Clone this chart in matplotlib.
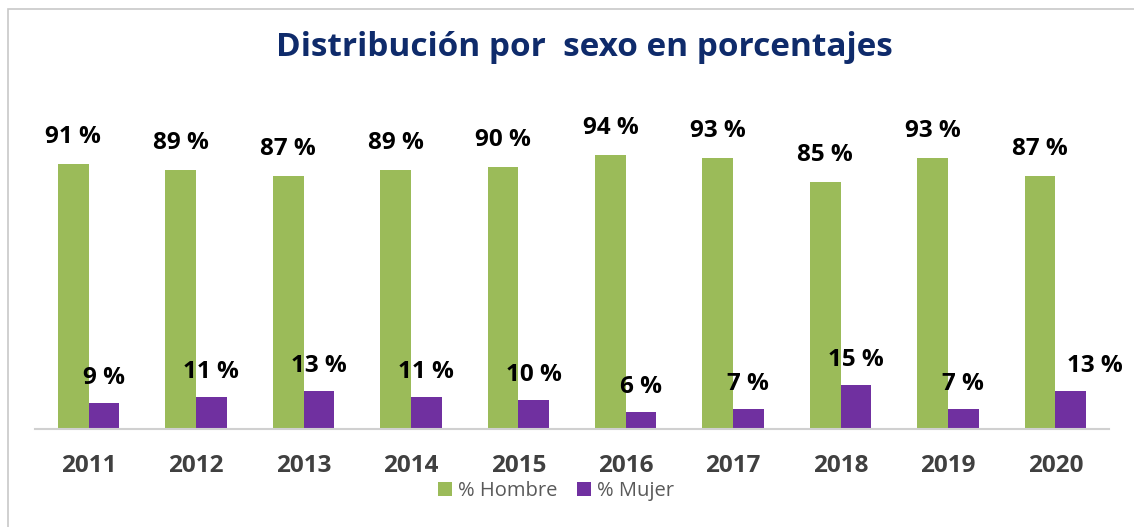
import matplotlib
matplotlib.use('Agg')
import matplotlib.pyplot as plt
import numpy as np
from matplotlib.patches import Rectangle

years = ['2011', '2012', '2013', '2014', '2015', '2016', '2017', '2018', '2019', '2020']
hombre = [91, 89, 87, 89, 90, 94, 93, 85, 93, 87]
mujer = [9, 11, 13, 11, 10, 6, 7, 15, 7, 13]

GREEN = '#9BBB59'
PURPLE = '#7030A0'
W, H = 1134, 527

plt.rcParams['font.family'] = ['Open Sans', 'DejaVu Sans']

fig = plt.figure(figsize=(W / 100, H / 100), dpi=100)

# figure border (only left/top edges visible in reference)
fig.patches.append(Rectangle((8 / W, -0.1), 1.2, (H - 9) / H + 0.1,
                             transform=fig.transFigure, fill=False,
                             edgecolor='#C8C8C8', linewidth=1.2))

# axes: baseline at y=429px, 100 units = 291px, x from 35 to 1109 px
ax = fig.add_axes([35 / W, (H - 429) / H, (1109 - 35) / W, 291 / H])
x = np.arange(len(years))
bw = 0.285
b1 = ax.bar(x - bw / 2, hombre, bw, color=GREEN, label='% Hombre')
b2 = ax.bar(x + bw / 2, mujer, bw, color=PURPLE, label='% Mujer')

ax.set_xlim(-0.5, len(years) - 0.5)
ax.set_ylim(0, 100)
ax.set_yticks([])
for s in ['top', 'right', 'left']:
    ax.spines[s].set_visible(False)
ax.spines['bottom'].set_color('#D0D0D0')
ax.spines['bottom'].set_linewidth(1.5)
ax.set_xticks(x)
ax.set_xticklabels(years, fontsize=17.5, fontweight='bold', color='#404040')
ax.tick_params(axis='x', length=0, pad=18)

for xi, v in zip(x, hombre):
    ax.annotate(f'{v} %', (xi - bw / 2, v), xytext=(0, 27), textcoords='offset pixels',
                ha='center', va='center', fontsize=17.5, fontweight='bold', color='black')
for i, (xi, v) in enumerate(zip(x, mujer)):
    dx = 24 if i == len(x) - 1 else 0
    ax.annotate(f'{v} %', (xi + bw / 2, v), xytext=(dx, 25), textcoords='offset pixels',
                ha='center', va='center', fontsize=17.5, fontweight='bold', color='black')

fig.text(584 / W, 1 - 47 / H, 'Distribución por  sexo en porcentajes',
         ha='center', va='center', fontsize=24, fontweight='bold', color='#0F2B6B')

fig.legend(handles=[b1, b2], loc='center', bbox_to_anchor=(556 / W, 1 - 491 / H),
           ncol=2, frameon=False, fontsize=14.5, labelcolor='#595959',
           handlelength=0.7, handleheight=0.7, handletextpad=0.3, columnspacing=1.0,
           borderpad=0.1)

fig.savefig('out.png', dpi=100)
